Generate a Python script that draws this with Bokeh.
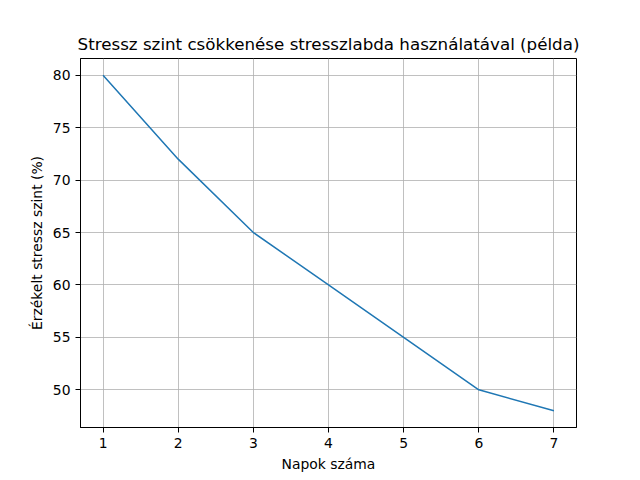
from bokeh.plotting import figure
from bokeh.models import Range1d, FixedTicker
from bokeh.embed import file_html
from bokeh.resources import INLINE

napok = [1, 2, 3, 4, 5, 6, 7]
stressz = [80, 72, 65, 60, 55, 50, 48]
x_ticks = [1, 2, 3, 4, 5, 6, 7]
y_ticks = [50, 55, 60, 65, 70, 75, 80]

FONT = "DejaVu Sans"

p = figure(width=640, height=480, output_backend="svg", toolbar_location=None,
           title="Stressz szint csökkenése stresszlabda használatával (példa)",
           x_range=Range1d(0.7, 7.3), y_range=Range1d(46.4, 81.6),
           min_border_left=80, min_border_right=64, min_border_top=58, min_border_bottom=53)

p.line(napok, stressz, line_color="#1f77b4", line_width=1.5)

p.title.align = "center"
p.title.text_font = FONT
p.title.text_font_size = "16.7px"
p.title.text_font_style = "normal"
p.title.text_color = "black"

p.xaxis.ticker = FixedTicker(ticks=x_ticks)
p.yaxis.ticker = FixedTicker(ticks=y_ticks)
p.xaxis.axis_label = "Napok száma"
p.yaxis.axis_label = "Érzékelt stressz szint (%)"

for ax in (p.xaxis, p.yaxis):
    ax.axis_label_text_font = FONT
    ax.axis_label_text_font_size = "13.9px"
    ax.axis_label_text_font_style = "normal"
    ax.axis_label_text_color = "black"
    ax.major_label_text_font = FONT
    ax.major_label_text_font_size = "13.9px"
    ax.major_label_text_color = "black"
    ax.axis_line_color = "black"
    ax.major_tick_line_color = "black"
    ax.major_tick_out = 5
    ax.major_tick_in = 0
    ax.minor_tick_line_color = None

p.grid.grid_line_color = "#b0b0b0"
p.grid.grid_line_width = 0.8
p.outline_line_color = "black"
p.outline_line_width = 1
p.background_fill_color = "white"
p.border_fill_color = "white"

open("out.html", "w").write(file_html(p, INLINE))
